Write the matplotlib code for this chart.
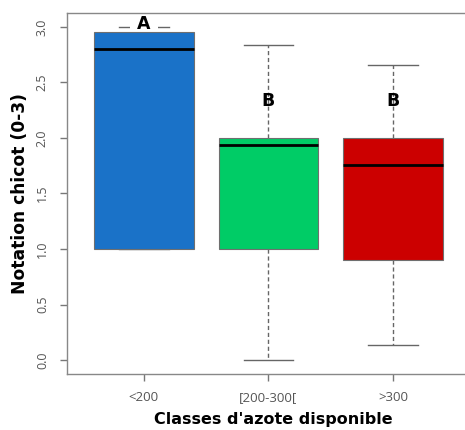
import matplotlib
matplotlib.use("Agg")
import matplotlib.pyplot as plt

classes = ["<200", "[200-300[", ">300"]
whisker_low = [1.0, 0.0, 0.14]
q1 = [1.0, 1.0, 0.9]
medians = [2.80, 1.94, 1.76]
q3 = [2.95, 2.0, 2.0]
whisker_high = [3.0, 2.835, 2.66]
letters = ["A", "B", "B"]
letter_y = [3.03, 2.33, 2.33]
colors = ["#1a72c8", "#00cc66", "#cc0000"]

plt.rcParams['font.family'] = ['DejaVu Sans']

fig = plt.figure(figsize=(4.65, 4.30), dpi=100)
# right edge runs past the figure, as in the cropped original
ax = fig.add_axes([0.144, 0.130, 0.886, 0.840])

stats = []
for i in range(len(classes)):
    stats.append({
        "whislo": whisker_low[i], "q1": q1[i], "med": medians[i],
        "q3": q3[i], "whishi": whisker_high[i], "fliers": [],
        "label": classes[i],
    })

bp = ax.bxp(stats, positions=[1, 2, 3], widths=0.8, patch_artist=True,
            showfliers=False,
            boxprops=dict(edgecolor="#6f6f6f", linewidth=0.8),
            medianprops=dict(color="black", linewidth=2),
            whiskerprops=dict(color="#666666", linewidth=1, linestyle=(0, (3, 2))),
            capprops=dict(color="#666666", linewidth=1),
            capwidths=0.4)
for patch, c in zip(bp["boxes"], colors):
    patch.set_facecolor(c)
    patch.set_zorder(3)
for m in bp["medians"]:
    m.set_zorder(4)
for c in bp["caps"]:
    c.set_zorder(1)

for i, t in enumerate(letters):
    ax.text(i + 1, letter_y[i], t, ha="center", va="center", fontsize=12.5,
            fontweight="bold", color="black", zorder=2,
            bbox=dict(facecolor="white", edgecolor="none", pad=5) if t == "A" else None)

ax.set_xlim(0.382, 3.691)
ax.set_ylim(-0.126, 3.126)
ax.set_yticks([0.0, 0.5, 1.0, 1.5, 2.0, 2.5, 3.0])
ax.set_yticklabels(["0.0", "0.5", "1.0", "1.5", "2.0", "2.5", "3.0"],
                   rotation=90, va="center", color="#555555", fontsize=9,
                   family="Open Sans")
ax.set_xticks([1, 2, 3])
ax.set_xticklabels(classes, color="#555555", fontsize=9.5, family="Open Sans")
ax.tick_params(axis="both", length=5, color="#777777", width=1)
ax.tick_params(axis="x", pad=7)
ax.tick_params(axis="y", pad=8)
for s in ax.spines.values():
    s.set_color("#888888")
    s.set_linewidth(1)
ax.spines["right"].set_visible(False)

ax.set_ylabel("Notation chicot (0-3)", fontsize=12.3, fontweight="bold", labelpad=5)
ax.set_xlabel("Classes d'azote disponible", fontsize=11.5, fontweight="bold", labelpad=6)

fig.savefig("out.png", dpi=100)
